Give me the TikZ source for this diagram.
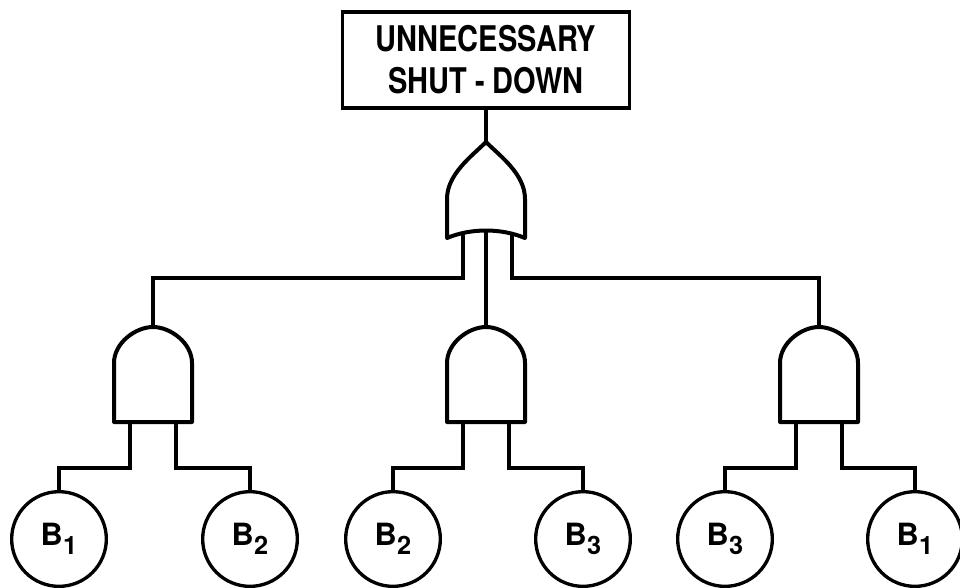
\documentclass[tikz,border=0pt]{standalone}
\usepackage{fontspec}
\newfontfamily\letterfont[FakeStretch=0.82]{TeX Gyre Heros}
\newfontfamily\labelfont{TeX Gyre Heros}
% basic event label: B with a large lowered index
\newcommand\basicev[1]{B\kern0.3pt\raisebox{-7pt}{\fontsize{19}{19}\selectfont #1}}

\tikzset{
  wire/.style={line width=3pt},
  gate/.style={line width=3pt, line join=round, fill=white},
  topbox/.style={draw, line width=2.6pt, rectangle, inner sep=0pt,
    minimum width=215pt, minimum height=72pt, align=center,
    font=\letterfont\bfseries\fontsize{26.5}{31.5}\selectfont},
  event/.style={draw, circle, line width=2.5pt, inner sep=0pt,
    minimum size=71pt, font=\labelfont\bfseries\fontsize{23}{23}\selectfont},
  andgate/.pic={
    \coordinate (-top) at (0,0);
    \coordinate (-in1) at (-23,95);
    \coordinate (-in2) at (23,95);
    \draw[gate] (-39,95) -- (-39,36)
      .. controls (-39,16) and (-17.5,0) .. (0,0)
      .. controls (17.5,0) and (39,16) .. (39,36)
      -- (39,95) -- cycle;
  },
  orgate/.pic={
    \coordinate (-top) at (0,0);
    \coordinate (-in1) at (-23,91);
    \coordinate (-in2) at (0,89);
    \coordinate (-in3) at (26,91);
    \draw[gate] (-39,96) -- (-39,57)
      .. controls (-39,32) and (-14,14) .. (0,0)
      .. controls (14,14) and (39,32) .. (39,57)
      -- (39,96)
      .. controls (15,86) and (-15,86) .. (-39,96) -- cycle;
  },
}

\begin{document}
\begin{tikzpicture}[x=0.75pt,y=-0.75pt]
\useasboundingbox (0,0) rectangle (960,587);

% top event
\node[topbox] (top) at (486,60) {UNNECESSARY\\SHUT - DOWN};

% gates
\pic (gor) at (486,142) {orgate};
\pic (gl) at (153,327) {andgate};
\pic (gm) at (486,327) {andgate};
\pic (gr) at (819,327) {andgate};

% basic events
\node[event] (b1) at (59,539)  {\basicev{1}};
\node[event] (b2) at (250,539) {\basicev{2}};
\node[event] (b3) at (393,539) {\basicev{2}};
\node[event] (b4) at (583,539) {\basicev{3}};
\node[event] (b5) at (725,539) {\basicev{3}};
\node[event] (b6) at (915,539) {\basicev{1}};

% bus levels
\coordinate (bus) at (0,278);
\coordinate (low) at (0,468);

% connectors
\draw[wire] (top.south) -- (gor-top);
\draw[wire] (gor-in1) -- (gor-in1 |- bus) -| (gl-top);
\draw[wire] (gor-in2) -- (gm-top);
\draw[wire] (gor-in3) -- (gor-in3 |- bus) -| (gr-top);

\draw[wire] (gl-in1) -- (gl-in1 |- low) -| (b1.north);
\draw[wire] (gl-in2) -- (gl-in2 |- low) -| (b2.north);
\draw[wire] (gm-in1) -- (gm-in1 |- low) -| (b3.north);
\draw[wire] (gm-in2) -- (gm-in2 |- low) -| (b4.north);
\draw[wire] (gr-in1) -- (gr-in1 |- low) -| (b5.north);
\draw[wire] (gr-in2) -- (gr-in2 |- low) -| (b6.north);
\end{tikzpicture}
\end{document}
